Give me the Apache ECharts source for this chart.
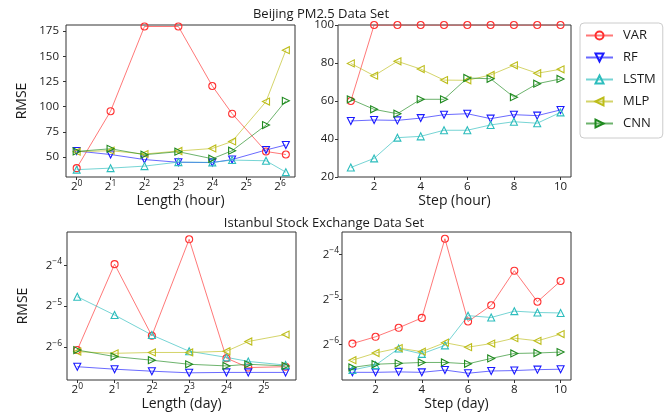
<!DOCTYPE html>
<html>
<head>
<meta charset="utf-8">
<script src="https://cdn.jsdelivr.net/npm/echarts@6/dist/echarts.min.js"></script>
<style>
html,body{margin:0;padding:0;background:#fff;}
#chart{width:671px;height:412px;}
</style>
</head>
<body>
<div id="chart"></div>
<script>
// ---------------- data ----------------
const seriesNames = ['VAR', 'RF', 'LSTM', 'MLP', 'CNN'];

// Beijing PM2.5 - Length (hour)
const lengthHour = [1, 2, 4, 8, 16, 24, 48, 72];
const bjLenVAR  = [39, 95.5, 179.5, 179.5, 120.5, 93, 55.5, 52.5];
const bjLenRF   = [56, 52.5, 47.5, 44.8, 44.5, 47.5, 57, 62];
const bjLenLSTM = [37.5, 39, 41, 45, 44.7, 47, 46.3, 35];
const bjLenMLP  = [55.3, 56.3, 53, 56, 58.5, 65.5, 105, 156];
const bjLenCNN  = [55.6, 58.2, 52.3, 55.3, 48.3, 56.3, 81.7, 105.8];

// Beijing PM2.5 - Step (hour)
const stepHour = [1, 2, 3, 4, 5, 6, 7, 8, 9, 10];
const bjStepVAR  = [60, 100, 100, 100, 100, 100, 100, 100, 100, 100];
const bjStepRF   = [49.5, 50, 49.8, 51, 52.8, 53.3, 50.7, 52.8, 52.3, 55.3];
const bjStepLSTM = [25, 29.8, 40.7, 41.4, 44.6, 44.6, 47.4, 49.1, 48.3, 54];
const bjStepMLP  = [79.8, 73.3, 80.9, 76.8, 71, 70.9, 73.7, 78.8, 74.6, 76.7];
const bjStepCNN  = [60.9, 55.6, 53.3, 60.9, 60.9, 72.1, 71.7, 62, 69.1, 71.6];

// Istanbul Stock Exchange - Length (day)
const lengthDay = [1, 2, 4, 8, 16, 24, 48];
const isLenVAR  = [0.01478, 0.0638, 0.01884, 0.0974, 0.01287, 0.01097, 0.01113];
const isLenRF   = [0.01113, 0.01067, 0.01031, 0.01003, 0.0101, 0.0101, 0.0101];
const isLenLSTM = [0.03665, 0.02683, 0.0191, 0.01448, 0.01305, 0.01218, 0.01144];
const isLenMLP  = [0.01438, 0.01398, 0.01418, 0.01418, 0.01448, 0.0171, 0.01924];
const isLenCNN  = [0.01478, 0.01323, 0.01243, 0.0116, 0.01128, 0.0116, 0.01128];

// Istanbul Stock Exchange - Step (day)
const stepDay = [1, 2, 3, 4, 5, 6, 7, 8, 9, 10];
const isStepVAR  = [0.01584, 0.01758, 0.0202, 0.02352, 0.07966, 0.02225, 0.02856, 0.0487, 0.03018, 0.04152];
const isStepRF   = [0.01017, 0.01017, 0.01024, 0.01017, 0.01053, 0.01003, 0.01038, 0.01045, 0.0106, 0.01067];
const isStepLSTM = [0.01053, 0.01136, 0.01468, 0.01351, 0.01541, 0.02435, 0.02368, 0.0261, 0.02557, 0.02538];
const isStepMLP  = [0.01226, 0.0137, 0.01478, 0.01398, 0.01606, 0.01499, 0.01584, 0.01722, 0.01652, 0.01833];
const isStepCNN  = [0.01097, 0.01152, 0.01168, 0.01184, 0.01184, 0.0116, 0.0126, 0.0136, 0.0137, 0.01389];

// tick labels
const bjLenYTicks = [50, 75, 100, 125, 150, 175];
const bjStepYTicks = [20, 40, 60, 80, 100];
const lenHourXTicks = [1, 2, 4, 8, 16, 32, 64];
const lenDayXTicks = [1, 2, 4, 8, 16, 32];
const stepXTicks = [2, 4, 6, 8, 10];
const isYTicks = [1 / 64, 1 / 32, 1 / 16];

// ---------------- style ----------------
const colors = {VAR: '#ff3030', RF: '#1a1aff', LSTM: '#2dbdbd', MLP: '#bdbd1a', CNN: '#1f8a1f'};
const symbols = {VAR: 'circle', RF: 'triangle', LSTM: 'triangle', MLP: 'triangle', CNN: 'triangle'};
const rotates = {VAR: 0, RF: 180, LSTM: 0, MLP: 90, CNN: -90};
const FONT = 'Open Sans';
const TXT = '#1a1a1a';

function pow2Label(v) {
  const e = Math.round(Math.log2(v));
  return '{b|2}{s|' + String(e).replace('-', '\u2212') + '}';
}
const powRich = {
  b: {fontFamily: FONT, fontSize: 11.5, color: TXT, lineHeight: 16},
  s: {fontFamily: FONT, fontSize: 8.5, color: TXT, lineHeight: 8, verticalAlign: 'top'}
};

const grids = [
  {left: 66, top: 25, width: 229, height: 152},
  {left: 338, top: 25, width: 233, height: 152},
  {left: 67, top: 232, width: 229, height: 148},
  {left: 342, top: 232, width: 229, height: 148}
];

function axisCfg(isY, i, type, min, max, ticks, name, fmt, margin, gap) {
  const a = {
    gridIndex: i, type: type, min: min, max: max,
    name: name, nameLocation: 'middle', nameGap: gap,
    nameTextStyle: {fontFamily: FONT, fontSize: 14, color: TXT},
    axisLine: {show: false},
    axisTick: {show: true, length: 3, inside: false, customValues: ticks, lineStyle: {color: '#333'}},
    axisLabel: {customValues: ticks, fontFamily: FONT, fontSize: 11.5, color: TXT, margin: margin},
    splitLine: {show: false}
  };
  if (isY) a.nameRotate = 90;
  if (fmt) { a.axisLabel.formatter = fmt; a.axisLabel.rich = powRich; }
  if (type === 'log') a.logBase = 2;
  return a;
}

const xAxes = [
  axisCfg(false, 0, 'log', Math.pow(2, -0.315), Math.pow(2, 6.44), lenHourXTicks, 'Length (hour)', pow2Label, 2, 16),
  axisCfg(false, 1, 'value', 0.45, 10.45, stepXTicks, 'Step (hour)', null, 4, 17),
  axisCfg(false, 2, 'log', Math.pow(2, -0.276), Math.pow(2, 5.865), lenDayXTicks, 'Length (day)', pow2Label, 2, 16),
  axisCfg(false, 3, 'value', 0.55, 10.45, stepXTicks, 'Step (day)', null, 4, 16)
];
const yAxes = [
  axisCfg(true, 0, 'value', 30.2, 181, bjLenYTicks, 'RMSE', null, 7, 37),
  axisCfg(true, 1, 'value', 20, 100, bjStepYTicks, '', null, 4, 30),
  axisCfg(true, 2, 'log', Math.pow(2, -6.816), Math.pow(2, -3.18), isYTicks, 'RMSE', pow2Label, 5, 37),
  axisCfg(true, 3, 'log', Math.pow(2, -6.79), Math.pow(2, -3.5), isYTicks, '', pow2Label, 3, 30)
];

const panels = [
  {xs: lengthHour, ys: {VAR: bjLenVAR, RF: bjLenRF, LSTM: bjLenLSTM, MLP: bjLenMLP, CNN: bjLenCNN}},
  {xs: stepHour, ys: {VAR: bjStepVAR, RF: bjStepRF, LSTM: bjStepLSTM, MLP: bjStepMLP, CNN: bjStepCNN}},
  {xs: lengthDay, ys: {VAR: isLenVAR, RF: isLenRF, LSTM: isLenLSTM, MLP: isLenMLP, CNN: isLenCNN}},
  {xs: stepDay, ys: {VAR: isStepVAR, RF: isStepRF, LSTM: isStepLSTM, MLP: isStepMLP, CNN: isStepCNN}}
];

const series = [];
panels.forEach((p, gi) => {
  seriesNames.forEach(n => {
    series.push({
      type: 'line', name: n, xAxisIndex: gi, yAxisIndex: gi,
      data: p.xs.map((x, k) => [x, p.ys[n][k]]),
      symbol: symbols[n], symbolRotate: rotates[n], symbolSize: 7,
      lineStyle: {color: colors[n], width: 1, opacity: 0.65},
      itemStyle: {color: 'rgba(255,255,255,0)', borderColor: colors[n], borderWidth: 1.1},
      silent: true, animation: false, clip: true
    });
  });
});

const option = {
  backgroundColor: '#fff',
  animation: false,
  title: [
    {text: 'Beijing PM2.5 Data Set', left: 316, top: 3, textAlign: 'center',
     textStyle: {fontFamily: FONT, fontSize: 13, fontWeight: 'normal', color: TXT}},
    {text: 'Istanbul Stock Exchange Data Set', left: 319, top: 212, textAlign: 'center',
     textStyle: {fontFamily: FONT, fontSize: 13, fontWeight: 'normal', color: TXT}}
  ],
  legend: {
    orient: 'vertical', left: 580, top: 23,
    data: seriesNames,
    itemWidth: 27, itemHeight: 10, itemGap: 9,
    padding: [6, 7, 8, 5],
    borderColor: '#cccccc', borderWidth: 1, borderRadius: 4,
    textStyle: {fontFamily: FONT, fontSize: 13, color: TXT, padding: [0, 0, 0, 5]}
  },
  grid: grids.map(g => Object.assign({show: true, borderColor: '#333', borderWidth: 1, backgroundColor: 'transparent', containLabel: false}, g)),
  xAxis: xAxes,
  yAxis: yAxes,
  series: series
};

const chart = echarts.init(document.getElementById('chart'), null, {renderer: 'canvas'});
chart.setOption(option);
</script>
</body>
</html>
